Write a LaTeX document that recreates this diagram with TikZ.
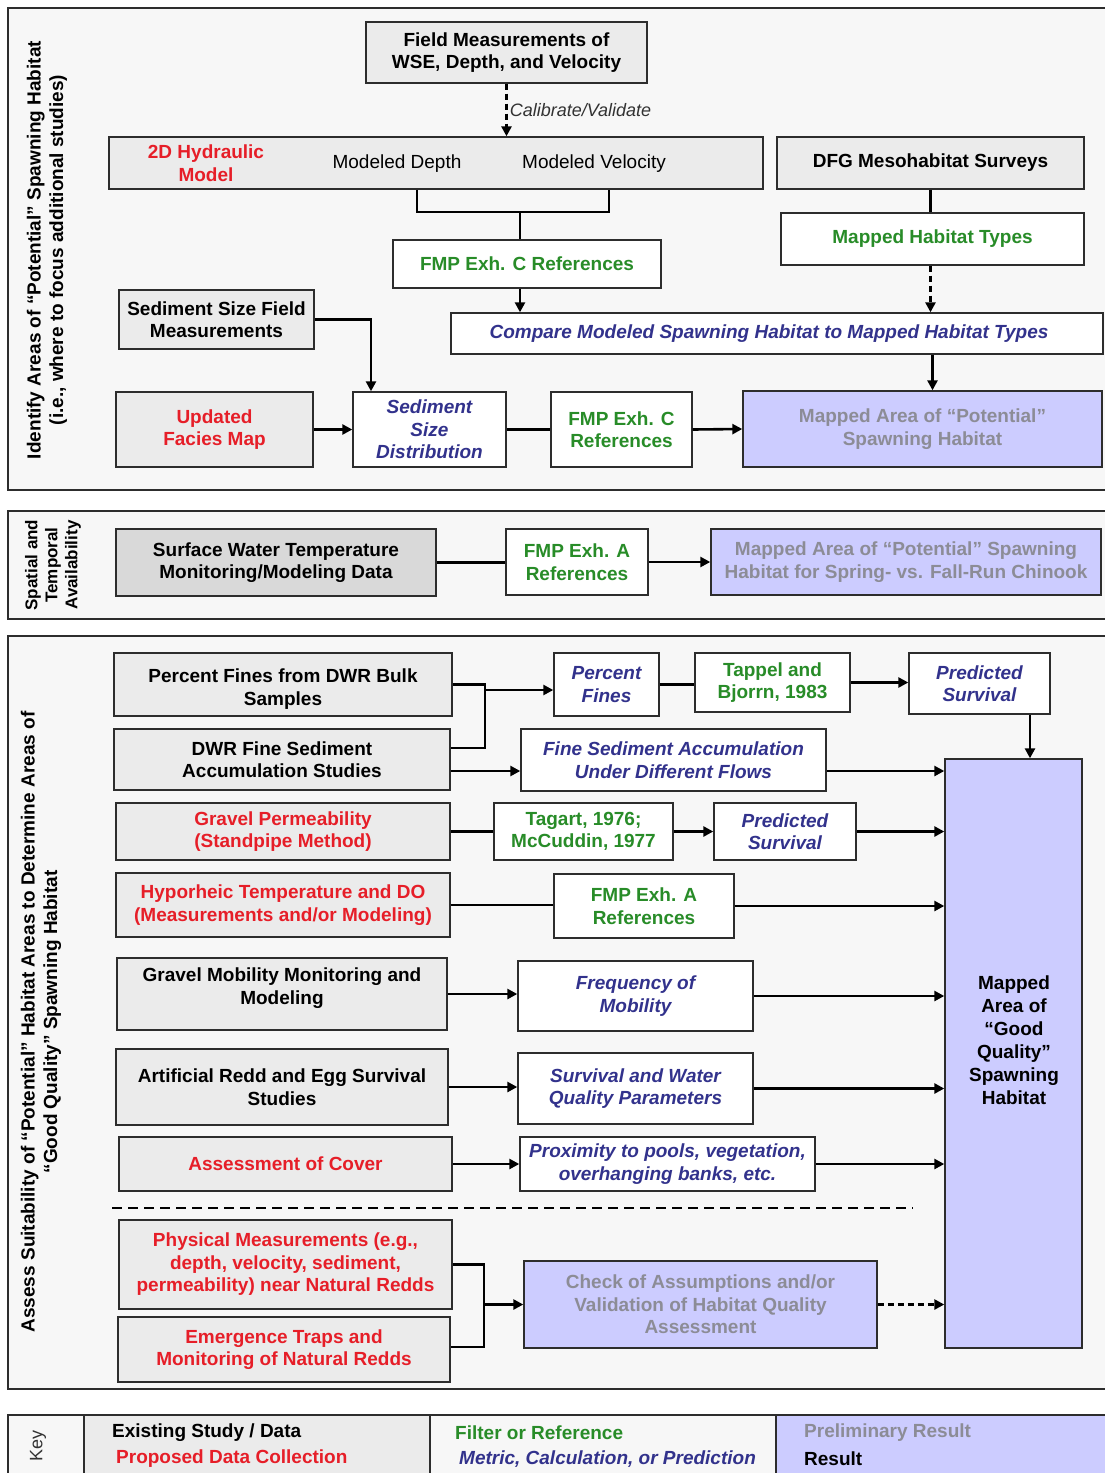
\documentclass[tikz,border=0pt]{standalone}
\usepackage{fontspec}
\setmainfont{Liberation Sans}
\usetikzlibrary{arrows.meta,calc}
\definecolor{bordc}{RGB}{45,45,45}
\definecolor{boxg}{RGB}{235,235,235}
\definecolor{boxd}{RGB}{217,217,217}
\definecolor{panel}{RGB}{247,247,247}
\definecolor{lav}{RGB}{204,204,255}
\definecolor{redt}{RGB}{230,30,40}
\definecolor{greent}{RGB}{40,140,40}
\definecolor{bluet}{RGB}{50,50,140}
\definecolor{grayt}{RGB}{140,140,150}
\definecolor{labt}{RGB}{50,50,50}
\tikzset{
  box/.style={draw=bordc, line width=1.4pt, align=center, inner sep=0pt,
    font=\fontsize{19}{22.5}\selectfont\bfseries, text=black},
  gbox/.style={box, fill=boxg},
  dbox/.style={box, fill=boxd},
  wbox/.style={box, fill=white},
  lbox/.style={box, fill=lav, text=grayt},
  tred/.style={text=redt},
  tgreen/.style={text=greent},
  tblue/.style={text=bluet, font=\fontsize{19}{22.5}\selectfont\bfseries\itshape},
  plaintext/.style={align=center, inner sep=0pt, font=\fontsize{19}{22.5}\selectfont},
  conn/.style={line width=2.6pt, draw=black},
  arr/.style={conn, -{Triangle[length=10pt,width=10pt]}},
  dashconn/.style={dash pattern=on 6pt off 4pt},
  panelbox/.style={draw=bordc, line width=1.4pt, fill=panel},
  sidelabel/.style={rotate=90, align=center, inner sep=0pt, font=\fontsize{19}{22.5}\selectfont\bfseries},
  keytext/.style={anchor=west, inner sep=0pt, font=\fontsize{19}{22.5}\selectfont\bfseries},
}
\begin{document}
\begin{tikzpicture}[x=1pt,y=-1pt]
\useasboundingbox (0,0) rectangle (1104,1473);
\fill[white] (0,0) rectangle (1104,1473);

% ================= Section 1 =================
\draw[panelbox] (8,8) rectangle (1112,490);
\node[sidelabel] (lab1) at (47,250) {Identify Areas of “Potential” Spawning Habitat\\(i.e., where to focus additional studies)};

\node[gbox, minimum width=281pt, minimum height=61pt] (fm) at (506.5,52.5) {Field Measurements of\\WSE, Depth, and Velocity};
\node[gbox, minimum width=654pt, minimum height=52pt] (hyd) at (436,163) {};
\node[plaintext, font=\fontsize{19}{22.5}\selectfont\bfseries, text=redt] (hydt) at (206,163) {2D Hydraulic\\Model};
\node[plaintext] (mdep) at (397,164) {Modeled Depth};
\node[plaintext] (mvel) at (594,164) {Modeled Velocity};
\node[gbox, minimum width=307pt, minimum height=52pt] (dfg) at (930.5,163) {DFG Mesohabitat Surveys};
\node[wbox, tgreen, minimum width=268pt, minimum height=48pt] (fmpc1) at (527,264) {FMP Exh. C References};
\node[wbox, tgreen, minimum width=303pt, minimum height=52pt] (mht) at (932.5,239) {Mapped Habitat Types};
\node[wbox, tblue, minimum width=652pt, minimum height=41pt] (cmp) at (777,333.5) {Compare Modeled Spawning Habitat to Mapped Habitat Types\hspace*{16pt}};
\node[gbox, minimum width=195pt, minimum height=59pt] (ssf) at (216.5,319.5) {Sediment Size Field\\Measurements};
\node[gbox, tred, minimum width=197pt, minimum height=75pt] (ufm) at (214.5,429.5) {Updated\\Facies Map};
\node[wbox, tblue, minimum width=153pt, minimum height=75pt] (ssd) at (429.5,429.5) {Sediment\\Size\\Distribution};
\node[wbox, tgreen, minimum width=141pt, minimum height=75pt] (fmpc2) at (621.5,429.5) {FMP Exh. C\\References};
\node[lbox, minimum width=359pt, minimum height=76pt] (map1) at (922.5,429) {Mapped Area of “Potential”\\Spawning Habitat};

\draw[arr, dashconn] (fm.south) -- (fm.south |- hyd.north)
  node[midway, right, xshift=2pt, inner sep=0pt, font=\fontsize{18}{20}\selectfont\itshape, text=labt] (cal) {Calibrate/Validate};
\coordinate (hd) at (417,212);
\coordinate (hv) at (609,212);
\coordinate (hm) at (520,212);
\draw[conn] (hd |- hyd.south) -- (hd) -- (hv) -- (hv |- hyd.south);
\draw[conn] (hm) -- (hm |- fmpc1.north);
\draw[arr] (hm |- fmpc1.south) -- (hm |- cmp.north);
\draw[conn] (dfg.south) -- (dfg.south |- mht.north);
\draw[arr, dashconn] (dfg.south |- mht.south) -- (dfg.south |- cmp.north);
\draw[arr] (mht.south |- cmp.south) -- (mht.south |- map1.north);
\coordinate (sj) at (371,319.5);
\draw[arr] (ssf.east) -- (sj) -- (sj |- ssd.north);
\draw[arr] (ufm.east) -- (ssd.west);
\draw[conn] (ssd.east) -- (fmpc2.west);
\draw[arr] (fmpc2.east) -- (map1.west);

% ================= Section 2 =================
\draw[panelbox] (8,511) rectangle (1112,619);
\node[sidelabel, font=\fontsize{17}{20}\selectfont\bfseries] (lab2) at (53,565) {Spatial and\\Temporal\\Availability};
\node[dbox, minimum width=320pt, minimum height=67pt] (swt) at (276,562.5) {Surface Water Temperature\\Monitoring/Modeling Data};
\node[wbox, tgreen, minimum width=142pt, minimum height=66pt] (fmpa1) at (577,562) {FMP Exh. A\\References};
\node[lbox, minimum width=390pt, minimum height=66pt] (map2) at (906,562) {Mapped Area of “Potential” Spawning\\Habitat for Spring- vs. Fall-Run Chinook};
\draw[conn] (swt.east) -- (swt.east -| fmpa1.west);
\draw[arr] (fmpa1.east) -- (map2.west);

% ================= Section 3 =================
\draw[panelbox] (8,636) rectangle (1112,1389);
\node[sidelabel] (lab3) at (41,1022) {Assess Suitability of “Potential” Habitat Areas to Determine Areas of\\“Good Quality” Spawning Habitat};

\node[gbox, minimum width=338pt, minimum height=63pt] (pf) at (283,684.5) {};
\node[plaintext, font=\fontsize{19}{22.5}\selectfont\bfseries] (pft) at (283,689) {Percent Fines from DWR Bulk\\Samples};
\node[gbox, minimum width=336pt, minimum height=61pt] (dwr) at (282,759.5) {DWR Fine Sediment\\Accumulation Studies};
\node[gbox, tred, minimum width=334pt, minimum height=57pt] (gp) at (283,831.5) {Gravel Permeability\\(Standpipe Method)};
\node[gbox, tred, minimum width=334pt, minimum height=64pt] (hyp) at (283,905) {Hyporheic Temperature and DO\\(Measurements and/or Modeling)};
\node[gbox, minimum width=330pt, minimum height=72pt] (gm) at (282,994) {};
\node[plaintext, font=\fontsize{19}{22.5}\selectfont\bfseries] (gmt) at (282,988) {Gravel Mobility Monitoring and\\Modeling};
\node[gbox, minimum width=332pt, minimum height=76pt] (ard) at (282,1087) {Artificial Redd and Egg Survival\\Studies};
\node[gbox, tred, minimum width=333pt, minimum height=54pt] (aoc) at (285.5,1164) {Assessment of Cover};
\node[gbox, tred, minimum width=333pt, minimum height=89pt] (phys) at (285.5,1264.5) {Physical Measurements (e.g.,\\depth, velocity, sediment,\\permeability) near Natural Redds};
\node[gbox, tred, minimum width=332pt, minimum height=65pt] (emt) at (284,1349.5) {Emergence Traps and\\Monitoring of Natural Redds};

\node[wbox, tblue, minimum width=105pt, minimum height=63pt] (pfn) at (606.5,684.5) {Percent\\Fines};
\node[wbox, tgreen, minimum width=155pt, minimum height=59pt] (tb) at (772.5,682.5) {Tappel and\\Bjorrn, 1983};
\node[wbox, tblue, minimum width=141pt, minimum height=61pt] (ps1) at (979.5,683.5) {Predicted\\Survival};
\node[wbox, tblue, minimum width=305pt, minimum height=62pt] (fsa) at (673.5,760) {Fine Sediment Accumulation\\Under Different Flows};
\node[wbox, tgreen, minimum width=179pt, minimum height=57pt] (tag) at (583.5,831.5) {Tagart, 1976;\\McCuddin, 1977};
\node[wbox, tblue, minimum width=142pt, minimum height=57pt] (ps2) at (785,831.5) {Predicted\\Survival};
\node[wbox, tgreen, minimum width=180pt, minimum height=64pt] (fmpa2) at (644,906) {FMP Exh. A\\References};
\node[wbox, tblue, minimum width=235pt, minimum height=70pt] (fom) at (635.5,996) {Frequency of\\Mobility};
\node[wbox, tblue, minimum width=235pt, minimum height=71pt] (swq) at (635.5,1088.5) {Survival and Water\\Quality Parameters};
\node[wbox, tblue, minimum width=295pt, minimum height=54pt] (prox) at (667.5,1164) {Proximity to pools, vegetation,\\overhanging banks, etc.};
\node[lbox, minimum width=353pt, minimum height=87pt] (chk) at (700.5,1304.5) {Check of Assumptions and/or\\Validation of Habitat Quality\\Assessment};
\node[box, fill=lav, minimum width=137pt, minimum height=589pt] (big) at (1013.5,1053.5) {};
\node[plaintext, font=\fontsize{19}{23}\selectfont\bfseries] (bigt) at (1014,1040) {Mapped\\Area of\\“Good\\Quality”\\Spawning\\Habitat};

\coordinate (ja) at (485,748);
\coordinate (jy) at (485,771);
\draw[conn] (pf.east) -| (ja) -- (ja -| dwr.east);
\draw[arr] (ja |- 0,690) -- (pfn.west |- 0,690);
\draw[arr] (dwr.east |- jy) -- (fsa.west |- jy);
\draw[arr] (fsa.east |- jy) -- (big.west |- jy);
\draw[conn] (pfn.east) -- (pfn.east -| tb.west);
\draw[arr] (tb.east) -- (tb.east -| ps1.west);
\coordinate (jc) at (1030,714);
\draw[arr] (jc |- ps1.south) -- (jc |- big.north);
\draw[conn] (gp.east) -- (tag.west);
\draw[arr] (tag.east) -- (ps2.west);
\draw[arr] (ps2.east) -- (ps2.east -| big.west);
\draw[conn] (hyp.east) -- (hyp.east -| fmpa2.west);
\draw[arr] (fmpa2.east) -- (fmpa2.east -| big.west);
\draw[arr] (gm.east) -- (gm.east -| fom.west);
\draw[arr] (fom.east) -- (fom.east -| big.west);
\draw[arr] (ard.east) -- (ard.east -| swq.west);
\draw[arr] (swq.east) -- (swq.east -| big.west);
\draw[arr] (aoc.east) -- (aoc.east -| prox.west);
\draw[arr] (prox.east) -- (prox.east -| big.west);
\coordinate (jb) at (484,1347);
\draw[conn] (phys.east) -| (jb) -- (jb -| emt.east);
\draw[arr] (jb |- chk.west) -- (chk.west);
\draw[arr, dashconn] (chk.east) -- (chk.east -| big.west);
\coordinate (ds1) at (112,1208);
\coordinate (ds2) at (913,1208);
\draw[conn, dash pattern=on 10pt off 6pt] (ds1) -- (ds2);

% ================= Key =================
\draw[draw=bordc, line width=1.4pt, fill=panel] (8,1415) rectangle (84,1480);
\draw[draw=bordc, line width=1.4pt, fill=boxg] (84,1415) rectangle (430,1480);
\draw[draw=bordc, line width=1.4pt, fill=panel] (430,1415) rectangle (776,1480);
\draw[draw=bordc, line width=1.4pt, fill=lav] (776,1415) rectangle (1112,1480);
\node[rotate=90, inner sep=0pt, font=\fontsize{18}{20}\selectfont, text=labt] (key) at (38,1446) {Key};
\node[keytext] (k1) at (112,1433) {Existing Study / Data};
\node[keytext, text=redt] (k2) at (116,1459) {Proposed Data Collection};
\node[keytext, text=greent] (k3) at (455,1433) {Filter or Reference};
\node[keytext, text=bluet, font=\fontsize{19}{22.5}\selectfont\bfseries\itshape] (k4) at (459,1459) {Metric, Calculation, or Prediction};
\node[keytext, text=grayt] (k5) at (804,1433) {Preliminary Result};
\node[keytext] (k6) at (804,1459) {Result};
\end{tikzpicture}
\end{document}
